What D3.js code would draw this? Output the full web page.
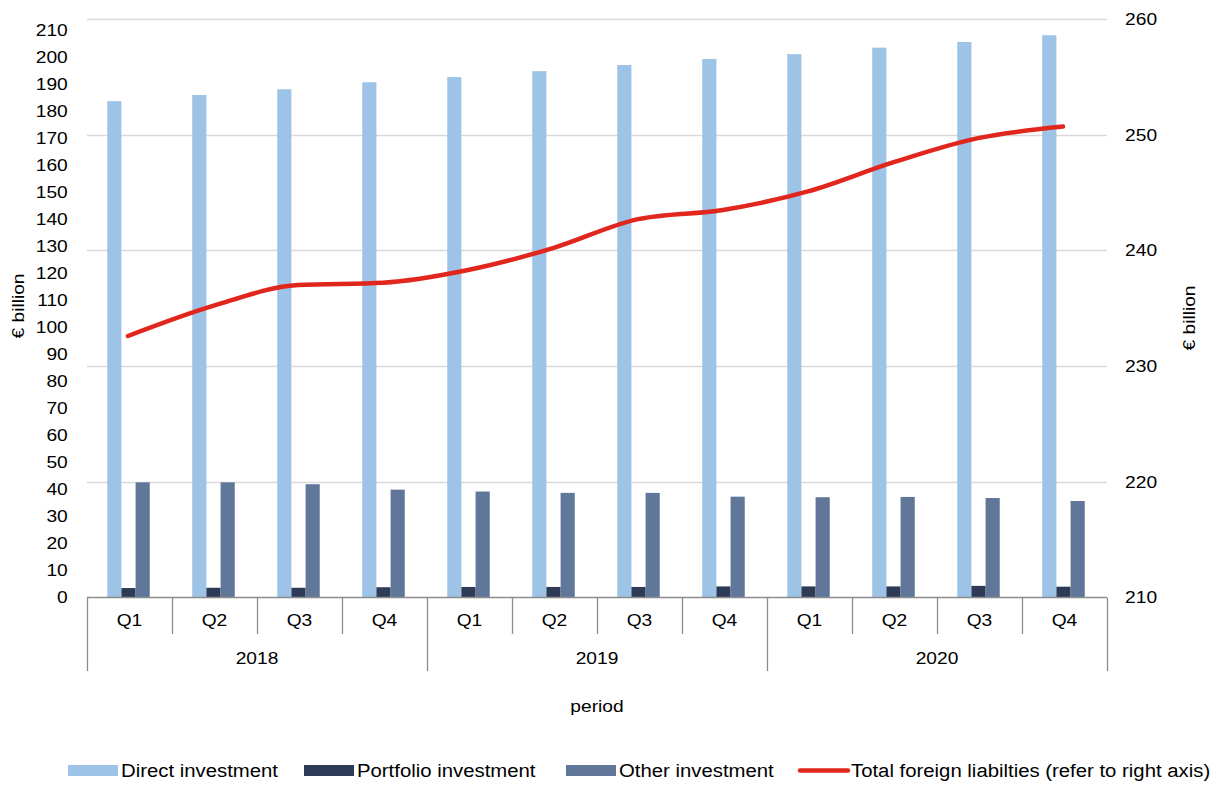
<!DOCTYPE html>
<html>
<head>
<meta charset="utf-8">
<script src="https://cdn.jsdelivr.net/npm/d3@7"></script>
<style>
  body { margin: 0; background: #fff; }
  svg text { font-family: "Liberation Sans", Arial, sans-serif; fill: #000; }
</style>
</head>
<body>
<svg id="chart" width="1217" height="785"></svg>
<script>
// data
const years = ["2018", "2019", "2020"];
const quarters = ["Q1", "Q2", "Q3", "Q4"];
const directInv = [183.6, 185.9, 188.0, 190.6, 192.5, 194.7, 197.0, 199.2, 201.0, 203.4, 205.5, 208.0];
const portfolioInv = [3.5, 3.6, 3.6, 3.8, 3.9, 3.9, 3.9, 4.1, 4.1, 4.1, 4.3, 4.0];
const otherInv = [42.6, 42.6, 41.9, 39.9, 39.2, 38.7, 38.7, 37.3, 37.1, 37.2, 36.8, 35.7];
const totalLiab = [232.6, 235.2, 237.0, 237.2, 238.3, 240.2, 242.7, 243.5, 245.1, 247.6, 249.7, 250.7];
const leftTicks = d3.range(0, 211, 10);
const rightTicks = [210, 220, 230, 240, 250, 260];

const seriesNames = ["Direct investment", "Portfolio investment", "Other investment"];
const seriesColors = ["#9dc3e6", "#2e3b57", "#60779a"];
const lineColor = "#e0261d";

const periods = [];
years.forEach(y => quarters.forEach(q => periods.push(y + "-" + q)));

const svg = d3.select("#chart");
const margin = { top: 19, right: 110, bottom: 188, left: 87 };
const width = 1217, height = 785;
const plotBottom = height - margin.bottom + 0.5;
const sx = 1.13; // the original text is a bit wider than Arial

// text helper: horizontally stretched label
function label(parent, x, y, txt, size, anchor, rot) {
  return parent.append("text")
    .attr("transform", `translate(${x},${y})${rot ? " rotate(" + rot + ")" : ""} scale(${sx},1)`)
    .attr("text-anchor", anchor || "middle")
    .attr("font-size", size)
    .text(txt);
}

const x = d3.scaleBand().domain(periods).range([margin.left, width - margin.right]);
const xInner = d3.scaleBand().domain(seriesNames).range([0, x.bandwidth()]).paddingInner(0).paddingOuter(1.5);
const yL = d3.scaleLinear().domain([0, 214]).range([plotBottom, margin.top]);
const yR = d3.scaleLinear().domain([210, 260]).range([plotBottom, margin.top]);

// gridlines follow the right axis
svg.append("g")
  .selectAll("line")
  .data(rightTicks.slice(1))
  .join("line")
  .attr("x1", margin.left).attr("x2", width - margin.right)
  .attr("y1", d => Math.round(yR(d)) + 0.5).attr("y2", d => Math.round(yR(d)) + 0.5)
  .attr("stroke", "#d9d9d9").attr("stroke-width", 1.3);

// bars
const seriesData = [directInv, portfolioInv, otherInv];
seriesData.forEach((vals, si) => {
  svg.append("g")
    .selectAll("rect")
    .data(vals)
    .join("rect")
    .attr("x", (d, i) => x(periods[i]) + xInner(seriesNames[si]) - 1)
    .attr("width", xInner.bandwidth())
    .attr("y", d => yL(d))
    .attr("height", d => yL(0) - yL(d))
    .attr("fill", seriesColors[si]);
});

// category axis (two levels)
const axisColor = "#8c8c8c";
const axisG = svg.append("g").attr("stroke", axisColor).attr("stroke-width", 1.3);
axisG.append("line")
  .attr("x1", margin.left).attr("x2", width - margin.right)
  .attr("y1", plotBottom).attr("y2", plotBottom);
const edges = periods.map(p => x(p)).concat([x.range()[1]]);
axisG.selectAll("line.sep")
  .data(edges)
  .join("line")
  .attr("class", "sep")
  .attr("x1", d => Math.round(d) + 0.5).attr("x2", d => Math.round(d) + 0.5)
  .attr("y1", plotBottom)
  .attr("y2", (d, i) => i % 4 === 0 ? 671 : 634);

const qG = svg.append("g");
periods.forEach(p => label(qG, x(p) + x.bandwidth() / 2, 626, p.split("-")[1], 17));

const yG = svg.append("g");
years.forEach(y => label(yG, (x(y + "-Q1") + x(y + "-Q4") + x.bandwidth()) / 2, 664, y, 17));

label(svg, (margin.left + width - margin.right) / 2, 712, "period", 17);

// left axis
const leftAxis = svg.append("g")
  .attr("transform", `translate(${margin.left},0)`)
  .call(d3.axisLeft(yL).tickValues(leftTicks).tickSize(0).tickPadding(17));
leftAxis.select(".domain").remove();
leftAxis.selectAll("text")
  .attr("font-size", 17)
  .attr("transform", `scale(${sx},1)`)
  .style("font-family", "Liberation Sans, Arial, sans-serif");

// right axis
const rightAxis = svg.append("g")
  .attr("transform", `translate(${width - margin.right},0)`)
  .call(d3.axisRight(yR).tickValues(rightTicks).tickSize(0).tickPadding(16));
rightAxis.select(".domain").remove();
rightAxis.selectAll("text")
  .attr("font-size", 17)
  .attr("transform", `scale(${sx},1)`)
  .style("font-family", "Liberation Sans, Arial, sans-serif");

label(svg, 24, 306, "€ billion", 17, "middle", -90);
label(svg, 1195, 318, "€ billion", 17, "middle", -90);

// total liabilities line
const line = d3.line()
  .x((d, i) => x(periods[i]) + x.bandwidth() / 2 - 1.5)
  .y(d => yR(d))
  .curve(d3.curveMonotoneX);
svg.append("path")
  .datum(totalLiab)
  .attr("d", line)
  .attr("fill", "none")
  .attr("stroke", lineColor)
  .attr("stroke-width", 4.5)
  .attr("stroke-linecap", "round");

// legend
const legendItems = [
  { name: "Direct investment", color: seriesColors[0], type: "rect", x: 68 },
  { name: "Portfolio investment", color: seriesColors[1], type: "rect", x: 304 },
  { name: "Other investment", color: seriesColors[2], type: "rect", x: 566 },
  { name: "Total foreign liabilties (refer to right axis)", color: lineColor, type: "line", x: 798 }
];
const legend = svg.append("g").attr("transform", "translate(0,770)");
legendItems.forEach(it => {
  const g = legend.append("g").attr("transform", `translate(${it.x},0)`);
  if (it.type === "rect") {
    g.append("rect").attr("x", 0).attr("y", -5).attr("width", 50).attr("height", 11).attr("fill", it.color);
  } else {
    g.append("line").attr("x1", 2).attr("x2", 50).attr("y1", 0.5).attr("y2", 0.5)
      .attr("stroke", it.color).attr("stroke-width", 4.5).attr("stroke-linecap", "round");
  }
  label(g, 53, 7, it.name, 18, "start");
});
</script>
</body>
</html>
